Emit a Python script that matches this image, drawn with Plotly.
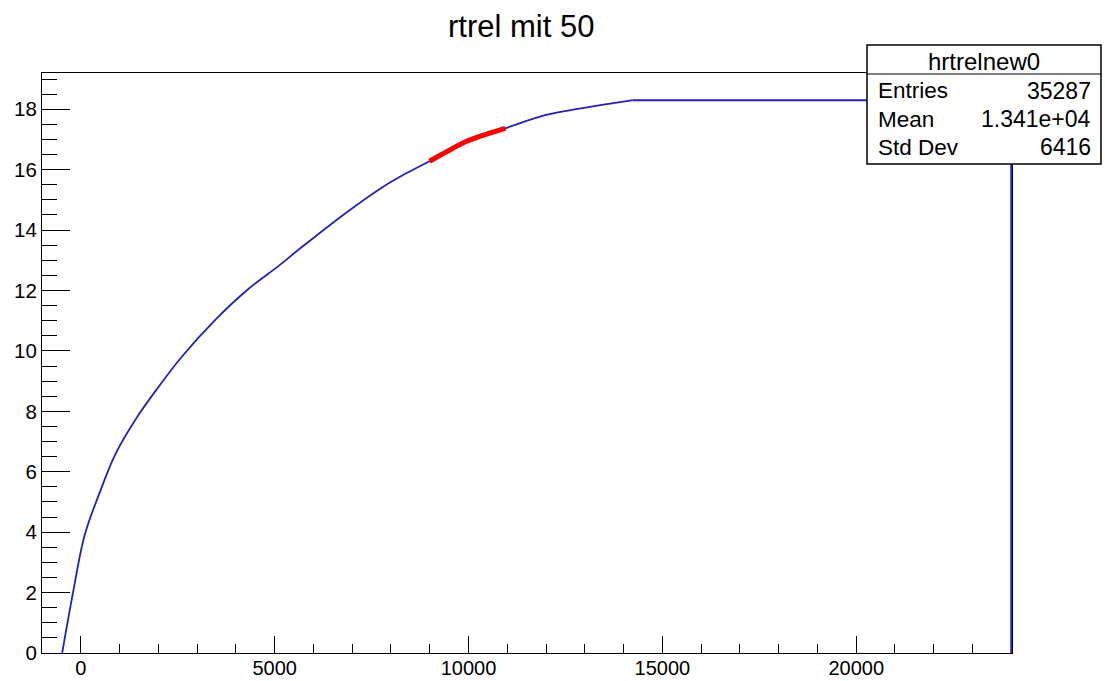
import plotly.graph_objects as go

# ---- data ----
rise_x = [-480, -200, 100, 500, 900, 1500, 2000, 2600, 3500, 4330, 5129, 5644,
          6933, 7792, 8394, 8995, 9940, 10950, 12002, 12861, 13720, 14235]
rise_y = [0.0, 2.0, 3.9, 5.35, 6.6, 7.9, 8.8, 9.8, 11.07, 12.06, 12.84, 13.38,
          14.66, 15.43, 15.88, 16.28, 16.93, 17.37, 17.81, 18.02, 18.2, 18.3]

tail_x = [14235, 24000, 24000]
tail_y = [18.3, 18.3, 0.0]

fit_x = [8995, 9470, 9940, 10450, 10950]
fit_y = [16.28, 16.62, 16.93, 17.17, 17.37]

title_text = "rtrel mit 50"
stats_name = "hrtrelnew0"
stats_labels = ["Entries", "Mean", "Std Dev"]
stats_values = ["35287", "1.341e+04", "6416"]

# ---- layout geometry (pixels) ----
W, H = 1105, 681
L, R, T, B = 42, 1012, 73, 653
PW, PH = R - L, B - T


def pxx(p):
    return (p - L) / PW


def pxy(p):
    return (B - p) / PH


FONT = "Liberation Sans, Arial, Helvetica, sans-serif"
BLUE = "#2222b4"

fig = go.Figure()
fig.add_trace(go.Scatter(x=rise_x, y=rise_y, mode="lines",
                         line=dict(color=BLUE, width=1.8, shape="spline", smoothing=1.0),
                         hoverinfo="skip", showlegend=False))
fig.add_trace(go.Scatter(x=tail_x, y=tail_y, mode="lines",
                         line=dict(color=BLUE, width=2),
                         hoverinfo="skip", showlegend=False))
fig.add_trace(go.Scatter(x=fit_x, y=fit_y, mode="lines",
                         line=dict(color="#ff0000", width=5, shape="spline", smoothing=1.0),
                         hoverinfo="skip", showlegend=False))

fig.update_layout(
    width=W, height=H,
    margin=dict(l=L, r=W - R, t=T, b=H - B, autoexpand=False),
    paper_bgcolor="white", plot_bgcolor="white",
    font=dict(family=FONT, color="black", size=20),
    showlegend=False,
)

fig.update_xaxes(
    range=[-1000, 24018], showgrid=False, zeroline=False, automargin=False,
    showline=True, linecolor="black", linewidth=1, mirror=True,
    ticks="inside", ticklen=17, tickwidth=1, tickcolor="black",
    tick0=0, dtick=5000, tickformat="d", tickfont=dict(size=20, family=FONT),
    ticklabelstandoff=-3,
    minor=dict(ticks="inside", ticklen=9, tickwidth=1, tickcolor="black", dtick=1000, tick0=0, showgrid=False),
    layer="below traces",
)
fig.update_yaxes(
    range=[0, 19.2], showgrid=False, zeroline=False, automargin=False,
    showline=True, linecolor="black", linewidth=1, mirror=True,
    ticks="inside", ticklen=28, tickwidth=1, tickcolor="black",
    tick0=0, dtick=2, tickfont=dict(size=20.5, family=FONT),
    minor=dict(ticks="inside", ticklen=15, tickwidth=1, tickcolor="black", dtick=0.5, tick0=0, showgrid=False),
    layer="below traces",
)

# title
fig.add_annotation(text=title_text, xref="paper", yref="paper",
                   x=pxx(521), y=pxy(26), xanchor="center", yanchor="middle",
                   showarrow=False, font=dict(size=31, family=FONT, color="black"))

# stats box
fig.add_shape(type="rect", xref="paper", yref="paper",
              x0=pxx(867), x1=pxx(1101), y0=pxy(164), y1=pxy(45),
              line=dict(color="black", width=1.5), fillcolor="white", layer="above")
fig.add_shape(type="line", xref="paper", yref="paper",
              x0=pxx(867), x1=pxx(1101), y0=pxy(74), y1=pxy(74),
              line=dict(color="black", width=1.2), layer="above")
fig.add_annotation(text=stats_name, xref="paper", yref="paper",
                   x=pxx(984), y=pxy(62), xanchor="center", yanchor="middle",
                   showarrow=False, font=dict(size=24, family=FONT, color="black"))
row_y = [91, 119, 147]
for lab, val, ry in zip(stats_labels, stats_values, row_y):
    fig.add_annotation(text=lab, xref="paper", yref="paper",
                       x=pxx(876), y=pxy(ry), xanchor="left", yanchor="middle",
                       showarrow=False, font=dict(size=22.5, family=FONT, color="black"))
    fig.add_annotation(text=val, xref="paper", yref="paper",
                       x=pxx(1093), y=pxy(ry), xanchor="right", yanchor="middle",
                       showarrow=False, font=dict(size=23, family=FONT, color="black"))

fig.write_html("out.html", config={"displayModeBar": False},
               post_script="document.body.style.margin='0px';")
